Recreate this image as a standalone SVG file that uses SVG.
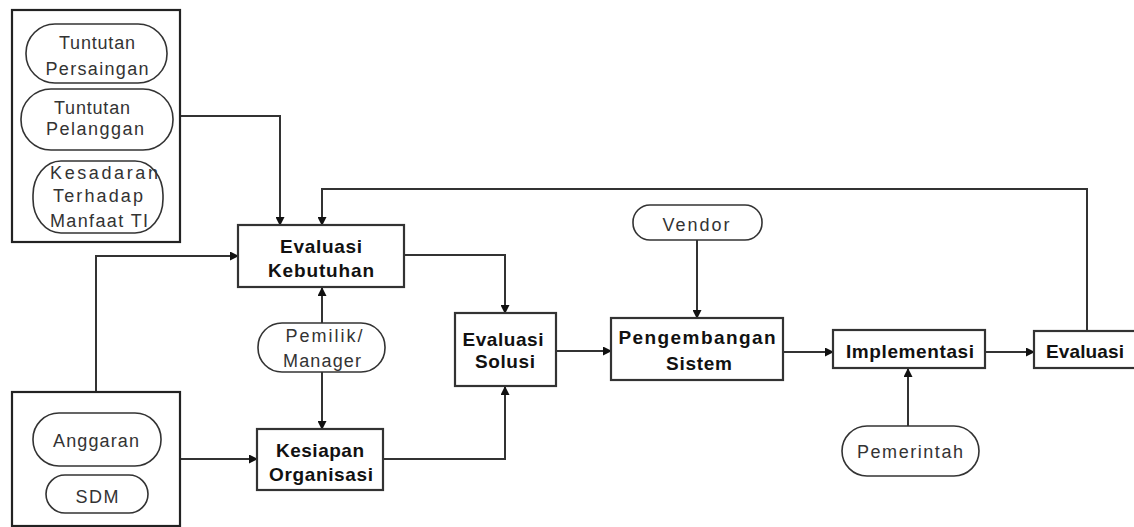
<svg xmlns="http://www.w3.org/2000/svg" width="1134" height="527" viewBox="0 0 1134 527">
<style>
.frame{fill:#fff;stroke:#222;stroke-width:2.2}
.box{fill:#fff;stroke:#333;stroke-width:2.2}
.pill{fill:#fff;stroke:#333;stroke-width:1.6}
.t{font-family:"Liberation Sans",Arial,sans-serif;font-size:18px;fill:#333;text-anchor:middle}
.b{font-family:"Liberation Sans",Arial,sans-serif;font-size:19px;font-weight:bold;fill:#111;text-anchor:middle}
.c{fill:none;stroke:#333;stroke-width:2}
</style>
<defs>
<marker id="ah" markerWidth="9" markerHeight="9" refX="8" refY="4.5" orient="auto" markerUnits="userSpaceOnUse">
<path d="M0,0 L9,4.5 L0,9 Z" fill="#111"/>
</marker>
</defs>
<rect width="1134" height="527" fill="#fff"/>
<g id="connectors">
<path class="c" d="M180,116 H280 V225" marker-end="url(#ah)"/>
<path class="c" d="M1087,331 V189 H322 V225" marker-end="url(#ah)"/>
<path class="c" d="M96,392 V256 H238" marker-end="url(#ah)" stroke="#555"/>
<path class="c" d="M322,323 V288" marker-end="url(#ah)"/>
<path class="c" d="M322,372 V429" marker-end="url(#ah)"/>
<path class="c" d="M404,255 H505 V313" marker-end="url(#ah)"/>
<path class="c" d="M180,459 H257" marker-end="url(#ah)"/>
<path class="c" d="M383,459 H505 V387" marker-end="url(#ah)"/>
<path class="c" d="M556,351 H611" marker-end="url(#ah)"/>
<path class="c" d="M697,240 V318" marker-end="url(#ah)"/>
<path class="c" d="M783,352 H833" marker-end="url(#ah)"/>
<path class="c" d="M908,426 V369" marker-end="url(#ah)"/>
<path class="c" d="M985,352 H1034" marker-end="url(#ah)"/>
</g>
<g id="external-factors">
<rect class="frame" x="12" y="10" width="168" height="232"/>
<g id="tuntutan-persaingan">
<rect class="pill" x="26" y="24" width="141" height="59" rx="29" ry="29"/>
<text class="t" x="97" y="49" textLength="76" lengthAdjust="spacing">Tuntutan</text>
<text class="t" x="97" y="75" textLength="103" lengthAdjust="spacing">Persaingan</text>
</g>
<g id="tuntutan-pelanggan">
<rect class="pill" x="21" y="89" width="152" height="61" rx="30" ry="30"/>
<text class="t" x="92" y="114" textLength="76" lengthAdjust="spacing">Tuntutan</text>
<text class="t" x="95" y="135" textLength="98" lengthAdjust="spacing">Pelanggan</text>
</g>
<g id="kesadaran">
<rect class="pill" x="33" y="161" width="130" height="72" rx="28" ry="34"/>
<text class="t" x="104" y="179" textLength="108" lengthAdjust="spacing">Kesadaran</text>
<text class="t" x="98" y="202" textLength="90" lengthAdjust="spacing">Terhadap</text>
<text class="t" x="99" y="227" textLength="98" lengthAdjust="spacing">Manfaat TI</text>
</g>
</g>
<g id="resources">
<rect class="frame" x="12" y="392" width="168" height="134"/>
<g id="anggaran">
<rect class="pill" x="33" y="413" width="128" height="53" rx="26" ry="26"/>
<text class="t" x="96" y="447" textLength="86" lengthAdjust="spacing">Anggaran</text>
</g>
<g id="sdm">
<rect class="pill" x="46" y="475" width="102" height="38" rx="19" ry="19"/>
<text class="t" x="97" y="503" textLength="43" lengthAdjust="spacing">SDM</text>
</g>
</g>
<g id="evaluasi-kebutuhan">
<rect class="box" x="238" y="225" width="166" height="62"/>
<text class="b" x="321" y="253" textLength="82" lengthAdjust="spacing">Evaluasi</text>
<text class="b" x="321" y="277" textLength="106" lengthAdjust="spacing">Kebutuhan</text>
</g>
<g id="pemilik-manager">
<rect class="pill" x="258" y="323" width="127" height="49" rx="24" ry="24"/>
<text class="t" x="324" y="342" textLength="77" lengthAdjust="spacing">Pemilik/</text>
<text class="t" x="322" y="367" textLength="78" lengthAdjust="spacing">Manager</text>
</g>
<g id="kesiapan-organisasi">
<rect class="box" x="257" y="429" width="126" height="61"/>
<text class="b" x="320" y="457" textLength="88" lengthAdjust="spacing">Kesiapan</text>
<text class="b" x="321" y="481" textLength="104" lengthAdjust="spacing">Organisasi</text>
</g>
<g id="evaluasi-solusi">
<rect class="box" x="455" y="313" width="101" height="73"/>
<text class="b" x="503" y="346" textLength="81" lengthAdjust="spacing">Evaluasi</text>
<text class="b" x="505" y="368" textLength="60" lengthAdjust="spacing">Solusi</text>
</g>
<g id="vendor">
<rect class="pill" x="633" y="205" width="129" height="35" rx="17" ry="17"/>
<text class="t" x="696" y="231" textLength="67" lengthAdjust="spacing">Vendor</text>
</g>
<g id="pengembangan-sistem">
<rect class="box" x="611" y="318" width="172" height="62"/>
<text class="b" x="697" y="344" textLength="157" lengthAdjust="spacing">Pengembangan</text>
<text class="b" x="699" y="370" textLength="66" lengthAdjust="spacing">Sistem</text>
</g>
<g id="implementasi">
<rect class="box" x="833" y="330" width="152" height="38"/>
<text class="b" x="910" y="358" textLength="128" lengthAdjust="spacing">Implementasi</text>
</g>
<g id="pemerintah">
<rect class="pill" x="842" y="426" width="137" height="50" rx="25" ry="25"/>
<text class="t" x="910" y="458" textLength="106" lengthAdjust="spacing">Pemerintah</text>
</g>
<g id="evaluasi">
<rect class="box" x="1034" y="331" width="110" height="37"/>
<text class="b" x="1085" y="358" textLength="78" lengthAdjust="spacing">Evaluasi</text>
</g>
</svg>
